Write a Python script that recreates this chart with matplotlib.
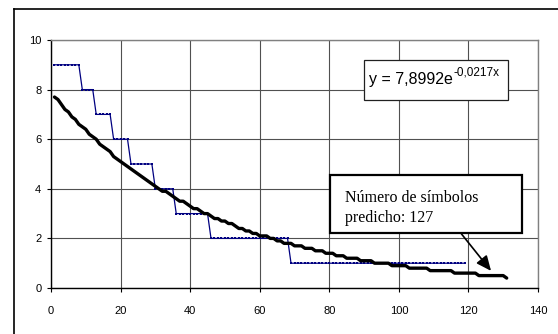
import matplotlib
matplotlib.use("Agg")
import matplotlib.pyplot as plt
from matplotlib.patches import Rectangle
from matplotlib.lines import Line2D

plt.rcParams['font.family'] = ['Liberation Sans', 'DejaVu Sans']

# Observed (blue step series): level and run length
step_levels = [9, 8, 7, 6, 5, 4, 3, 2, 1]
step_runs = [8, 4, 5, 5, 7, 6, 10, 23, 51]
obs_y = []
for lvl, n in zip(step_levels, step_runs):
    obs_y += [lvl] * n
obs_x = list(range(1, len(obs_y) + 1))

# Fitted curve (black), read at each x = 1..131
fit_y = [7.7, 7.6, 7.4, 7.2, 7.1, 6.9, 6.8, 6.6, 6.5, 6.4,
         6.2, 6.1, 6.0, 5.8, 5.7, 5.6, 5.5, 5.3, 5.2, 5.1,
         5.0, 4.9, 4.8, 4.7, 4.6, 4.5, 4.4, 4.3, 4.2, 4.1,
         4.0, 3.9, 3.9, 3.8, 3.7, 3.6, 3.5, 3.5, 3.4, 3.3,
         3.2, 3.2, 3.1, 3.0, 3.0, 2.9, 2.8, 2.8, 2.7, 2.7,
         2.6, 2.6, 2.5, 2.4, 2.4, 2.3, 2.3, 2.2, 2.2, 2.1,
         2.1, 2.1, 2.0, 2.0, 1.9, 1.9, 1.8, 1.8, 1.8, 1.7,
         1.7, 1.7, 1.6, 1.6, 1.6, 1.5, 1.5, 1.5, 1.4, 1.4,
         1.4, 1.3, 1.3, 1.3, 1.2, 1.2, 1.2, 1.2, 1.1, 1.1,
         1.1, 1.1, 1.0, 1.0, 1.0, 1.0, 1.0, 0.9, 0.9, 0.9,
         0.9, 0.9, 0.8, 0.8, 0.8, 0.8, 0.8, 0.8, 0.7, 0.7,
         0.7, 0.7, 0.7, 0.7, 0.7, 0.6, 0.6, 0.6, 0.6, 0.6,
         0.6, 0.6, 0.5, 0.5, 0.5, 0.5, 0.5, 0.5, 0.5, 0.5,
         0.4]
fit_x = list(range(1, len(fit_y) + 1))

x_ticks = [0, 20, 40, 60, 80, 100, 120, 140]
y_ticks = [0, 2, 4, 6, 8, 10]

equation_base = 'y = 7,8992e'
equation_exp = '-0,0217x'
note_lines = ['Número de símbolos', 'predicho: 127']
arrow_tail = (118.0, 2.18)
arrow_tip = (126.5, 0.69)

fig = plt.figure(figsize=(5.58, 3.34), dpi=100)
ax = fig.add_axes([51/558, 46/334, 487/558, 248/334])

ax.set_xlim(0, 140)
ax.set_ylim(0, 10)
ax.set_xticks(x_ticks)
ax.set_yticks(y_ticks)
ax.tick_params(axis='both', labelsize=8, length=3, width=0.8, direction='out',
               colors='black')
ax.tick_params(axis='x', pad=10)
ax.tick_params(axis='y', pad=4)
ax.grid(True, color='#505050', linewidth=0.8)
ax.set_axisbelow(True)
for s in ['top', 'right']:
    ax.spines[s].set_color('#808080')
    ax.spines[s].set_linewidth(1.0)
for s in ['left', 'bottom']:
    ax.spines[s].set_color('black')
    ax.spines[s].set_linewidth(1.0)

ax.plot(obs_x, obs_y, color='#000080', linewidth=0.9, marker='s',
        markersize=1.5, markeredgewidth=0, zorder=3)
ax.plot(fit_x, fit_y, color='black', linewidth=2.4, solid_joinstyle='round',
        solid_capstyle='round', zorder=4)

# Equation box
ax.add_patch(Rectangle((0.643, 0.758), 0.295, 0.161, transform=ax.transAxes,
                       facecolor='white', edgecolor='#202020', linewidth=0.9,
                       zorder=5))
t_eq = ax.text(0.653, 0.823, equation_base, transform=ax.transAxes,
               fontsize=11.5, ha='left', va='baseline', zorder=6)
ax.annotate(equation_exp, xy=(1, 0), xycoords=t_eq, xytext=(0.5, 6),
            textcoords='offset points', fontsize=8.5, ha='left', va='bottom',
            zorder=6)

# Annotation box
ax.add_patch(Rectangle((0.573, 0.220), 0.394, 0.236, transform=ax.transAxes,
                       facecolor='white', edgecolor='black', linewidth=1.6,
                       zorder=5))
ax.text(0.604, 0.348, note_lines[0], transform=ax.transAxes, fontsize=11.5,
        family='Liberation Serif', ha='left', va='baseline', zorder=6)
ax.text(0.604, 0.266, note_lines[1], transform=ax.transAxes, fontsize=11.5,
        family='Liberation Serif', ha='left', va='baseline', zorder=6)
ax.annotate('', xy=arrow_tip, xytext=arrow_tail,
            arrowprops=dict(arrowstyle='-|>,head_length=0.9,head_width=0.4',
                            color='black', lw=1.2, shrinkA=0, shrinkB=0),
            zorder=6)

# Outer chart frame
fig.add_artist(Line2D([14/558, 1.0], [1 - 9/334, 1 - 9/334], color='black',
                      linewidth=1.2, transform=fig.transFigure))
fig.add_artist(Line2D([14/558, 14/558], [0, 1 - 9/334], color='black',
                      linewidth=1.2, transform=fig.transFigure))

fig.savefig('out.png', dpi=100)
